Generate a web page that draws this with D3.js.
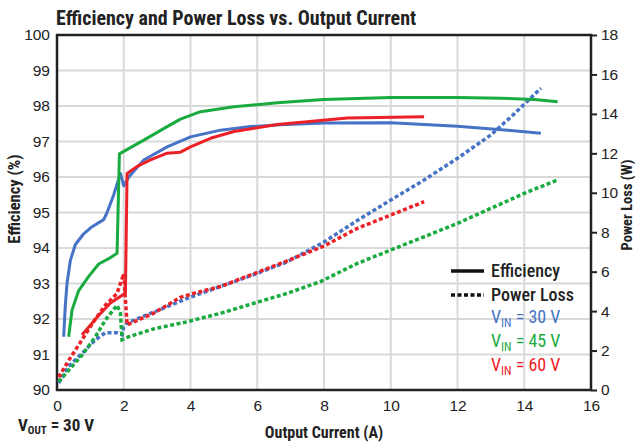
<!DOCTYPE html>
<html>
<head>
<meta charset="utf-8">
<script src="https://cdn.jsdelivr.net/npm/d3@7"></script>
<style>
  body { margin: 0; background: #fff; }
  svg { font-family: "Liberation Sans Narrow", "Roboto Condensed", "Open Sans", sans-serif; }
</style>
</head>
<body>
<div id="chart"></div>
<script>
// output current (A) vs efficiency (%) for each input voltage
const effVin30 = [[0.2,91.5],[0.25,92.4],[0.3,93.0],[0.4,93.65],[0.55,94.1],[0.8,94.4],[1.05,94.6],[1.4,94.8],[1.5,95.0],[1.7,95.5],[1.9,96.1],[2.0,95.75],[2.15,96.0],[2.6,96.48],[3.3,96.85],[4.0,97.13],[4.9,97.32],[5.8,97.42],[6.7,97.47],[8,97.52],[10,97.53],[12,97.43],[13.5,97.32],[14.5,97.23]];
const effVin45 = [[0.35,91.5],[0.45,92.25],[0.65,92.8],[0.95,93.2],[1.25,93.55],[1.55,93.7],[1.8,93.85],[1.87,96.65],[2.6,97.04],[3.3,97.42],[3.7,97.63],[4.3,97.84],[5.3,97.98],[6.6,98.09],[8,98.18],[10,98.24],[12,98.24],[13.3,98.22],[14.3,98.18],[15,98.12]];
const effVin60 = [[0.75,91.55],[1.2,92.05],[1.6,92.45],[2.0,92.7],[2.05,92.75],[2.1,96.1],[2.4,96.3],[2.8,96.48],[3.3,96.67],[3.7,96.7],[4.0,96.85],[4.6,97.09],[5.3,97.28],[6.6,97.48],[8.7,97.66],[11,97.7]];

// output current (A) vs power loss (W)
const lossVin30 = [[0.05,0.35],[0.35,1.2],[0.75,1.85],[1.15,2.55],[1.45,2.9],[1.8,2.9],[1.95,2.8],[2.0,3.2],[2.1,3.4],[2.9,3.95],[3.9,4.65],[4.9,5.25],[5.9,5.85],[6.9,6.5],[8,7.5],[9,8.6],[10,9.63],[11,10.65],[12,11.75],[13,12.93],[13.7,14.0],[14.5,15.3]];
const lossVin45 = [[0.05,0.42],[0.35,1.0],[0.75,1.77],[1.15,2.7],[1.45,3.55],[1.8,4.3],[1.9,3.9],[1.95,2.55],[2.15,2.7],[2.9,3.1],[3.9,3.46],[4.9,3.89],[5.9,4.4],[6.9,4.9],[7.9,5.5],[9,6.42],[10,7.1],[11,7.77],[12,8.45],[13,9.21],[14,9.97],[15,10.65]];
const lossVin60 = [[0.05,0.65],[0.35,1.5],[0.75,2.55],[1.15,3.6],[1.45,4.3],[1.8,4.9],[2.0,5.9],[2.1,3.3],[2.9,3.9],[3.7,4.7],[4.1,4.9],[4.9,5.25],[5.9,5.9],[6.9,6.55],[8,7.3],[9,8.2],[10,8.87],[11,9.55]];

const currentTicks = [0, 2, 4, 6, 8, 10, 12, 14, 16];
const effTicks = [90, 91, 92, 93, 94, 95, 96, 97, 98, 99, 100];
const lossTicks = [0, 2, 4, 6, 8, 10, 12, 14, 16, 18];
const vinLabels = ["30 V", "45 V", "60 V"];

const width = 635, height = 444;
const margin = {top: 35, right: 44, bottom: 54, left: 57};
const blue = "#4673c6", green = "#1aab40", red = "#ec2127";
const gridColor = "#d9d9d9";

const svg = d3.select("#chart").append("svg")
    .attr("width", width)
    .attr("height", height);

const x = d3.scaleLinear()
    .domain([0, 16])
    .range([margin.left, width - margin.right]);

const yEff = d3.scaleLinear()
    .domain([90, 100])
    .range([height - margin.bottom, margin.top]);

const yLoss = d3.scaleLinear()
    .domain([0, 18])
    .range([height - margin.bottom, margin.top]);

// gridlines
svg.append("g")
    .selectAll("line.vgrid")
    .data(currentTicks.slice(1, -1))
    .join("line")
    .attr("x1", d => x(d)).attr("x2", d => x(d))
    .attr("y1", margin.top).attr("y2", height - margin.bottom)
    .attr("stroke", gridColor).attr("stroke-width", 2);

svg.append("g")
    .selectAll("line.hgrid")
    .data(effTicks.slice(1, -1))
    .join("line")
    .attr("x1", margin.left).attr("x2", width - margin.right)
    .attr("y1", d => yEff(d)).attr("y2", d => yEff(d))
    .attr("stroke", gridColor).attr("stroke-width", 2);

// axes
const tickFont = "15.5px";

svg.append("g")
    .attr("transform", `translate(0,${height - margin.bottom})`)
    .call(d3.axisBottom(x).tickValues(currentTicks).tickSize(0).tickPadding(10))
    .call(g => g.select(".domain").remove())
    .call(g => g.selectAll("text").attr("fill", "#222").style("font-size", tickFont));

svg.append("g")
    .attr("transform", `translate(${margin.left},0)`)
    .call(d3.axisLeft(yEff).tickValues(effTicks).tickSize(0).tickPadding(7))
    .call(g => g.select(".domain").remove())
    .call(g => g.selectAll("text").attr("fill", "#222").style("font-size", tickFont));

svg.append("g")
    .attr("transform", `translate(${width - margin.right},0)`)
    .call(d3.axisRight(yLoss).tickValues(lossTicks).tickSize(6).tickPadding(4))
    .call(g => g.select(".domain").remove())
    .call(g => g.selectAll("line").attr("stroke", "#222").attr("stroke-width", 2))
    .call(g => g.selectAll("text").attr("fill", "#222").style("font-size", tickFont));

// frame
svg.append("rect")
    .attr("x", margin.left).attr("y", margin.top)
    .attr("width", width - margin.left - margin.right)
    .attr("height", height - margin.top - margin.bottom)
    .attr("fill", "none").attr("stroke", "#222").attr("stroke-width", 2.5);

// series
const effLine = d3.line().x(d => x(d[0])).y(d => yEff(d[1]));
const lossLine = d3.line().x(d => x(d[0])).y(d => yLoss(d[1]));

const lossSeries = [[lossVin30, blue], [lossVin45, green], [lossVin60, red]];
const effSeries = [[effVin30, blue], [effVin45, green], [effVin60, red]];

svg.selectAll(".loss-line")
    .data(lossSeries)
    .join("path")
    .attr("class", "loss-line")
    .attr("d", d => lossLine(d[0]))
    .attr("fill", "none")
    .attr("stroke", d => d[1])
    .attr("stroke-width", 3.5)
    .attr("stroke-dasharray", "4,2.5");

svg.selectAll(".eff-line")
    .data(effSeries)
    .join("path")
    .attr("class", "eff-line")
    .attr("d", d => effLine(d[0]))
    .attr("fill", "none")
    .attr("stroke", d => d[1])
    .attr("stroke-width", 3)
    .attr("stroke-linejoin", "round");

// title and axis labels
svg.append("text")
    .attr("x", margin.left - 1).attr("y", 25)
    .attr("font-weight", "bold").attr("font-size", "20px").attr("fill", "#222")
    .text("Efficiency and Power Loss vs. Output Current");

svg.append("text")
    .attr("x", (margin.left + width - margin.right) / 2).attr("y", 438)
    .attr("text-anchor", "middle")
    .attr("font-weight", "bold").attr("font-size", "16px").attr("fill", "#222")
    .text("Output Current (A)");

svg.append("text")
    .attr("transform", "translate(20,199) rotate(-90)")
    .attr("text-anchor", "middle")
    .attr("font-weight", "bold").attr("font-size", "16.5px").attr("fill", "#222")
    .text("Efficiency (%)");

svg.append("text")
    .attr("transform", "translate(632,205) rotate(-90)")
    .attr("text-anchor", "middle")
    .attr("font-weight", "bold").attr("font-size", "14.5px").attr("fill", "#222")
    .text("Power Loss (W)");

const vout = svg.append("text")
    .attr("x", 18).attr("y", 431)
    .attr("font-weight", "bold").attr("font-size", "17px").attr("fill", "#222");
vout.append("tspan").text("V");
vout.append("tspan").attr("font-size", "11px").attr("dy", 3).text("OUT");
vout.append("tspan").attr("dy", -3).text(" = 30 V");

// legend
const lg = svg.append("g");
lg.append("line")
    .attr("x1", 451).attr("x2", 484).attr("y1", 271).attr("y2", 271)
    .attr("stroke", "#111").attr("stroke-width", 3.5);
lg.append("line")
    .attr("x1", 451).attr("x2", 484).attr("y1", 295).attr("y2", 295)
    .attr("stroke", "#111").attr("stroke-width", 3.5).attr("stroke-dasharray", "4,2.5");
lg.append("text").attr("x", 491).attr("y", 277)
    .attr("font-size", "18px").attr("font-weight", 500).attr("fill", "#222").text("Efficiency");
lg.append("text").attr("x", 491).attr("y", 301)
    .attr("font-size", "18px").attr("font-weight", 500).attr("fill", "#222").text("Power Loss");

lg.selectAll(".vin")
    .data(vinLabels)
    .join("text")
    .attr("class", "vin")
    .attr("x", 491)
    .attr("y", (d, i) => 323 + i * 24)
    .attr("font-size", "18px")
    .attr("fill", (d, i) => [blue, green, red][i])
    .each(function (d) {
        const t = d3.select(this);
        t.append("tspan").text("V");
        t.append("tspan").attr("font-size", "12px").attr("dy", 4).text("IN");
        t.append("tspan").attr("dy", -4).text(" = " + d);
    });
</script>
</body>
</html>
